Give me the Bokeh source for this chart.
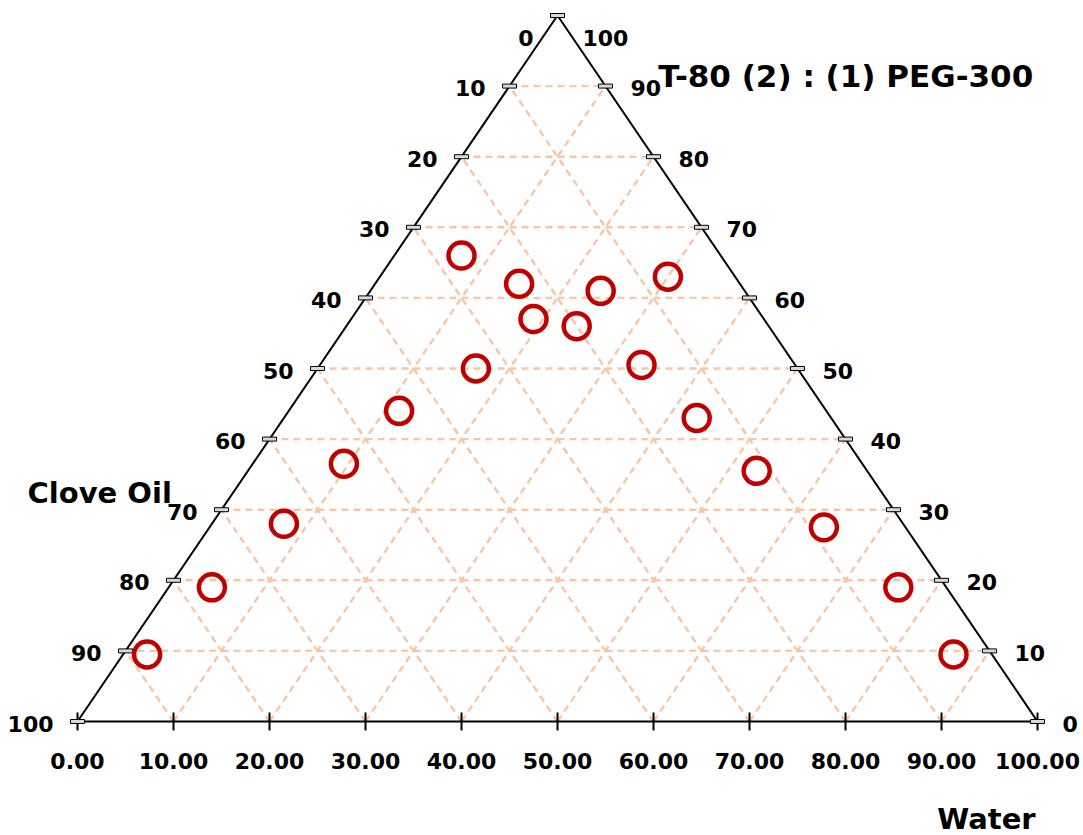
import numpy as np
from bokeh.plotting import figure
from bokeh.models import ColumnDataSource, Label, Range1d
from bokeh.embed import file_html
from bokeh.resources import INLINE
from bokeh.core.properties import value

# ---- data (composition %) ----
water = [7, 15, 24, 30, 19, 24, 16.5, 33.5, 11.5, 43, 9.5, 53, 7.5, 64, 4.5, 76, 2.5, 86.5]
smix = [66, 62, 61, 63, 57, 56, 50, 50.5, 44, 43, 36.5, 35.5, 28, 27.5, 19, 19, 9.5, 9.5]
oil = [27, 23, 15, 7, 24, 20, 33.5, 16, 44.5, 14, 54, 11.5, 64.5, 8.5, 76.5, 5, 88, 4]

tick_values = [0, 10, 20, 30, 40, 50, 60, 70, 80, 90, 100]
left_labels = ["0", "10", "20", "30", "40", "50", "60", "70", "80", "90", "100"]      # Clove Oil
right_labels = ["100", "90", "80", "70", "60", "50", "40", "30", "20", "10", "0"]     # T-80:PEG-300
bottom_labels = ["0.00", "10.00", "20.00", "30.00", "40.00", "50.00",
                 "60.00", "70.00", "80.00", "90.00", "100.00"]                       # Water

title_text = "T-80 (2) : (1) PEG-300"
left_title = "Clove Oil"
bottom_title = "Water"


def tern(w, s):
    w = np.asarray(w, dtype=float)
    s = np.asarray(s, dtype=float)
    return w + s / 2.0, s


FONT = value("DejaVu Sans")

p = figure(width=1083, height=835,
           x_range=Range1d(-8.0208, 104.79), y_range=Range1d(-16.147, 102.125),
           output_backend="svg", toolbar_location=None,
           x_axis_location=None, y_axis_location=None,
           min_border=0, min_border_left=0, min_border_right=0,
           min_border_top=0, min_border_bottom=0)
p.grid.visible = False
p.outline_line_color = None
p.background_fill_color = "white"
p.border_fill_color = "white"

# ---- grid lines ----
tv = np.array(tick_values[1:-1], dtype=float)
gx0, gy0, gx1, gy1 = [], [], [], []
for k in tv:
    for (wa, sa, wb, sb) in [(0, k, 100 - k, k),          # constant T-80:PEG
                             (k, 0, k, 100 - k),          # constant water
                             (100 - k, 0, 0, 100 - k)]:   # constant oil
        a = tern(wa, sa); b = tern(wb, sb)
        gx0.append(float(a[0])); gy0.append(float(a[1]))
        gx1.append(float(b[0])); gy1.append(float(b[1]))
p.segment(gx0, gy0, gx1, gy1, line_color="#F7C6A5", line_width=2.4, line_dash="7 5")

# ---- triangle edges ----
cx, cy = tern([0, 100, 0, 0], [0, 0, 100, 0])
p.line(cx, cy, line_color="black", line_width=2, line_join="miter")

# ---- tick marks ----
tvals = np.array(tick_values, dtype=float)
lx, ly = tern(np.zeros_like(tvals), 100 - tvals)          # left edge (oil)
rvals = np.array([float(v) for v in right_labels])
rx, ry = tern(100 - rvals, rvals)                          # right edge (T-80:PEG)
bx, by = tern(tvals, np.zeros_like(tvals))                 # bottom edge (water)

p.rect(bx, by, width=2, height=18, width_units="screen", height_units="screen",
       fill_color="black", line_color=None)
p.rect(np.concatenate([lx, rx]), np.concatenate([ly, ry]), width=14, height=4,
       width_units="screen", height_units="screen",
       fill_color="#D9D9D9", line_color="black", line_width=1)

# ---- data points ----
px, py = tern(water, smix)
src = ColumnDataSource(dict(x=px, y=py, water=water, smix=smix, oil=oil))
p.scatter("x", "y", source=src, marker="circle", size=26, fill_color=None,
          line_color="#C00000", line_width=4.5)

# ---- tick labels ----
l_yoff = [22 if v == "0" else 2 for v in left_labels]
p.text(lx, ly, text=left_labels, text_align="right", text_baseline="middle",
       x_offset=-24, y_offset=l_yoff, text_font=FONT, text_font_style="bold",
       text_font_size="22px", text_color="black")
r_yoff = [22 if v == "100" else 2 for v in right_labels]
p.text(rx, ry, text=right_labels, text_align="left", text_baseline="middle",
       x_offset=25, y_offset=r_yoff, text_font=FONT, text_font_style="bold",
       text_font_size="22px", text_color="black")
p.text(bx, by, text=bottom_labels, text_align="center", text_baseline="middle",
       x_offset=0, y_offset=39, text_font=FONT, text_font_style="bold",
       text_font_size="22px", text_color="black")

# ---- titles ----
p.add_layout(Label(x=60.5, y=91.5, text=title_text, text_align="left", text_baseline="middle",
                   text_font="DejaVu Sans", text_font_style="bold", text_font_size="31px",
                   text_color="black"))
p.add_layout(Label(x=-5.21, y=32.4, text=left_title, text_align="left", text_baseline="middle",
                   text_font="DejaVu Sans", text_font_style="bold", text_font_size="29px",
                   text_color="black"))
p.add_layout(Label(x=99.8, y=-13.88, text=bottom_title, text_align="right", text_baseline="middle",
                   text_font="DejaVu Sans", text_font_style="bold", text_font_size="29px",
                   text_color="black"))

open("out.html", "w").write(file_html(p, INLINE))
